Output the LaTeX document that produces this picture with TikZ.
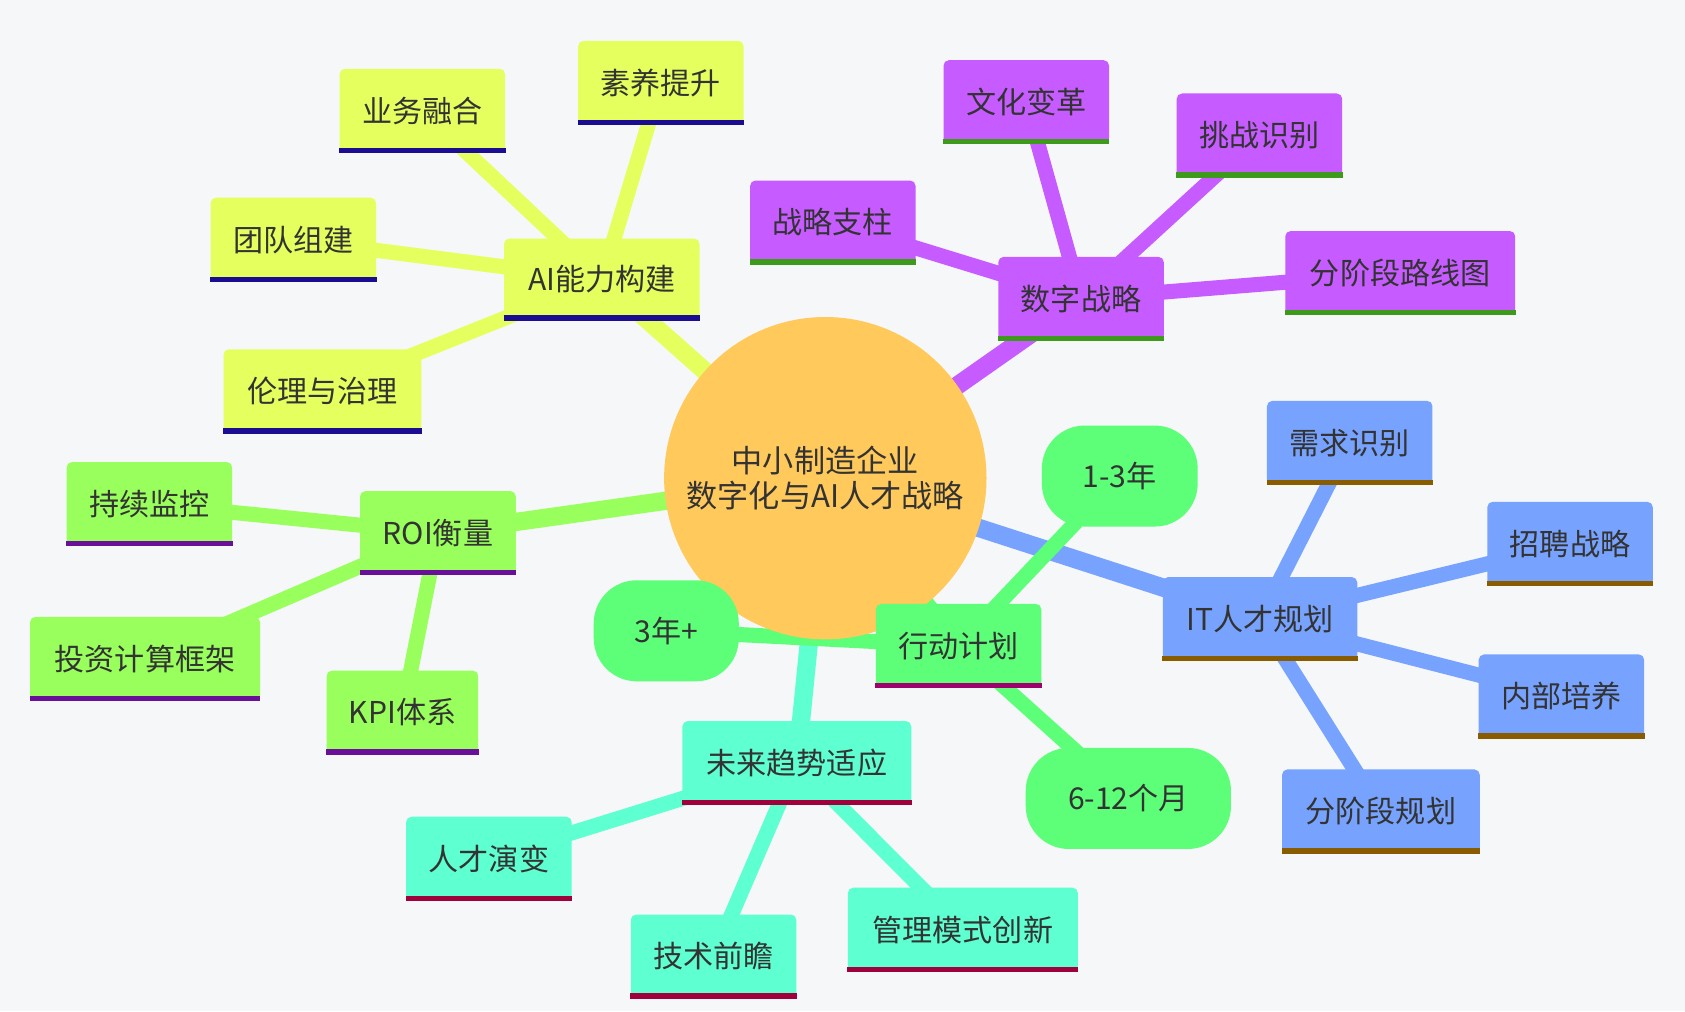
\documentclass[tikz,border=0pt]{standalone}
\usepackage{fontspec}
\setmainfont{Noto Sans CJK SC}
\pgfdeclarelayer{bg}\pgfdeclarelayer{back}
\pgfsetlayers{back,bg,main}
\definecolor{bgc}{HTML}{F5F7F9}
\definecolor{cA}{HTML}{E5FF5E}\definecolor{uA}{HTML}{1A0D91}
\definecolor{cB}{HTML}{C65BFF}\definecolor{uB}{HTML}{3D9A1A}
\definecolor{cC}{HTML}{99FF5C}\definecolor{uC}{HTML}{6A0F9A}
\definecolor{cD}{HTML}{77A3FF}\definecolor{uD}{HTML}{8A5C00}
\definecolor{cE}{HTML}{5CFF77}\definecolor{uE}{HTML}{A0006E}
\definecolor{cF}{HTML}{5EFFD0}\definecolor{uF}{HTML}{A0003C}
\definecolor{root}{HTML}{FFC95C}
\definecolor{txt}{HTML}{333333}
\newcommand\mmbox[8]{% name x1 y1 x2 y2 text fill underline
  \node[boxn,fill=#7,minimum width={(#4-#2)*0.5pt},minimum height={(#5-#3)*0.5pt}] (#1) at ({(#2+#4)/2},{(#3+#5)/2}) {#6};
  \draw[line width=2.5pt,#8] ([yshift=1.25pt]#1.south west)--([yshift=1.25pt]#1.south east);}
\tikzset{boxn/.style={rectangle,rounded corners=2.5pt,inner sep=0pt,font=\fontsize{14}{16}\selectfont,text=txt},
  re/.style={line width=8.5pt},ce/.style={line width=7pt}}
\begin{document}
\begin{tikzpicture}[x=0.5pt,y=-0.5pt]
\begin{pgfonlayer}{back}
\fill[bgc] (0,0) rectangle (1568,941);
\end{pgfonlayer}
\node[circle,fill=root,minimum size=150pt,inner sep=0pt,align=center,text=txt,font=\fontsize{14.5}{16}\selectfont] (r) at (768,445) {中小制造企业\\数字化与AI人才战略};
\mmbox{a}{469}{222}{651}{298}{AI能力构建}{cA}{uA}
\mmbox{a1}{538}{38}{692}{116}{素养提升}{cA}{uA}
\mmbox{a2}{316}{64}{470}{142}{业务融合}{cA}{uA}
\mmbox{a3}{196}{184}{350}{262}{团队组建}{cA}{uA}
\mmbox{a4}{208}{325}{392}{403}{伦理与治理}{cA}{uA}
\mmbox{b}{929}{239}{1083}{317}{数字战略}{cB}{uB}
\mmbox{b1}{878}{56}{1032}{134}{文化变革}{cB}{uB}
\mmbox{b2}{1095}{87}{1249}{165}{挑战识别}{cB}{uB}
\mmbox{b3}{698}{168}{852}{246}{战略支柱}{cB}{uB}
\mmbox{b4}{1196}{215}{1410}{293}{分阶段路线图}{cB}{uB}
\mmbox{c}{335}{457}{480}{535}{ROI衡量}{cC}{uC}
\mmbox{c1}{62}{430}{216}{508}{持续监控}{cC}{uC}
\mmbox{c2}{28}{574}{242}{652}{投资计算框架}{cC}{uC}
\mmbox{c3}{304}{624}{445}{702}{KPI体系}{cC}{uC}
\mmbox{d}{1082}{537}{1263}{615}{IT人才规划}{cD}{uD}
\mmbox{d1}{1179}{373}{1333}{451}{需求识别}{cD}{uD}
\mmbox{d2}{1384}{467}{1538}{545}{招聘战略}{cD}{uD}
\mmbox{d3}{1376}{609}{1530}{687}{内部培养}{cD}{uD}
\mmbox{d4}{1193}{716}{1377}{794}{分阶段规划}{cD}{uD}
\mmbox{e}{815}{562}{969}{640}{行动计划}{cE}{uE}
\node[boxn,fill=cE,rounded corners=20pt,minimum width=72.5pt,minimum height=47pt] (e1) at (1042,443) {1-3年};
\node[boxn,fill=cE,rounded corners=20pt,minimum width=67.5pt,minimum height=47pt] (e2) at (620,587) {3年+};
\node[boxn,fill=cE,rounded corners=20pt,minimum width=95.5pt,minimum height=47pt] (e3) at (1050,743) {6-12个月};
\mmbox{f}{635}{671}{848}{749}{未来趋势适应}{cF}{uF}
\mmbox{f1}{378}{760}{532}{838}{人才演变}{cF}{uF}
\mmbox{f2}{587}{851}{741}{929}{技术前瞻}{cF}{uF}
\mmbox{f3}{789}{826}{1003}{904}{管理模式创新}{cF}{uF}
\begin{pgfonlayer}{bg}
\draw[re,cA] (r.center)--(a.center);
\draw[re,cB] (r.center)--(b.center);
\draw[re,cC] (r.center)--(c.center);
\draw[re,cD] (r.center)--(d.center);
\draw[re,cE] (r.center)--(e.center);
\draw[re,cF] (r.center)--(f.center);
\foreach \i in {1,2,3,4}{\draw[ce,cA] (a.center)--(a\i.center);\draw[ce,cB] (b.center)--(b\i.center);\draw[ce,cD] (d.center)--(d\i.center);}
\foreach \i in {1,2,3}{\draw[ce,cC] (c.center)--(c\i.center);\draw[ce,cE] (e.center)--(e\i.center);\draw[ce,cF] (f.center)--(f\i.center);}
\end{pgfonlayer}
\end{tikzpicture}
\end{document}
